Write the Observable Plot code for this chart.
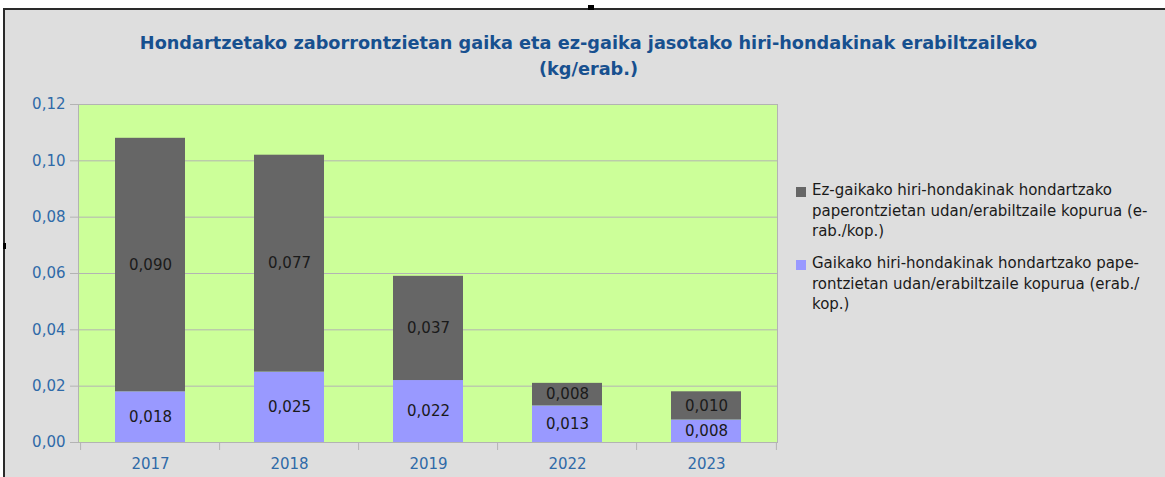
<!DOCTYPE html>
<html>
<head>
<meta charset="utf-8">
<script src="https://cdn.jsdelivr.net/npm/d3@7"></script>
<script src="https://cdn.jsdelivr.net/npm/@observablehq/plot@0.6"></script>
<style>
  html, body { margin: 0; padding: 0; background: #ffffff; width: 1165px; height: 477px; overflow: hidden; }
  #frame { position: absolute; left: 3px; top: 8px; width: 1170px; height: 480px; box-sizing: border-box;
           border-top: 2px solid #2a2a2a; border-left: 2px solid #2a2a2a; background: #dedede; }
  .handle { position: absolute; background: #000; }
  #title { position: absolute; left: 0; top: 30px; width: 1177px; text-align: center;
           font: bold 17.7px "DejaVu Sans", Verdana, sans-serif; line-height: 26px; color: #17508f; }
  #chart { position: absolute; left: 0; top: 0; }
  .leg { position: absolute; left: 796px; font: 15px "DejaVu Sans", Verdana, sans-serif; line-height: 20.5px; color: #1a1a1a; }
  .leg .sw { position: absolute; left: 0; top: 7px; width: 10px; height: 10px; }
  .leg .tx { position: absolute; left: 16px; top: 0; white-space: nowrap; }
</style>
</head>
<body>
<div id="frame"></div>
<div class="handle" style="left:588px;top:5px;width:6px;height:5px"></div>
<div class="handle" style="left:3px;top:243px;width:3px;height:6px"></div>
<div id="title"></div>
<div id="chart"></div>
<div id="legend"></div>
<script>
const titleLines = ["Hondartzetako zaborrontzietan gaika eta ez-gaika jasotako hiri-hondakinak erabiltzaileko", "(kg/erab.)"];
const years = ["2017", "2018", "2019", "2022", "2023"];
const gaika = [0.018, 0.025, 0.022, 0.013, 0.008];
const ezGaika = [0.090, 0.077, 0.037, 0.008, 0.010];
const seriesNames = ["Gaikako", "Ez-gaikako"];
const seriesColors = ["#9999ff", "#666666"];
const legendLines = [
  ["Ez-gaikako hiri-hondakinak hondartzako", "paperontzietan udan/erabiltzaile kopurua (e-", "rab./kop.)"],
  ["Gaikako hiri-hondakinak hondartzako pape-", "rontzietan udan/erabiltzaile kopurua (erab./", "kop.)"]
];
const legendColors = ["#666666", "#9999ff"];
const legendTops = [180, 253];
const yTicks = [0, 0.02, 0.04, 0.06, 0.08, 0.10, 0.12];

const fmt = (d, n) => d.toFixed(n).replace(".", ",");

document.getElementById("title").innerHTML = titleLines.join("<br>");

const rows = [];
years.forEach((y, i) => {
  rows.push({year: y, series: seriesNames[0], value: gaika[i]});
  rows.push({year: y, series: seriesNames[1], value: ezGaika[i]});
});

const W = 1165, H = 477;
const mL = 78, mR = 388, mT = 104, mB = 35;
const step = (W - mL - mR) / years.length;
const plotH = H - mT - mB;
const yMax = yTicks[yTicks.length - 1];
const tickLen = -yMax * 8 / plotH;

const chart = Plot.plot({
  width: W, height: H,
  marginLeft: mL, marginRight: mR, marginTop: mT, marginBottom: mB,
  style: {background: "transparent", fontFamily: "DejaVu Sans, Verdana, sans-serif", fontSize: "15px"},
  x: {domain: years, paddingInner: 0.5, paddingOuter: 0.25, label: null},
  y: {domain: [0, yMax], label: null},
  color: {domain: seriesNames, range: seriesColors},
  marks: [
    Plot.frame({fill: "#ccff99", stroke: "#b3b3b3"}),
    Plot.gridY(yTicks, {stroke: "#b3b3b3", strokeOpacity: 1}),
    Plot.barY(rows, Plot.stackY({x: "year", y: "value", fill: "series"})),
    Plot.text(rows, Plot.stackY({x: "year", y: "value", text: d => fmt(d.value, 3), fill: "#1a1a1a", fontSize: 15})),
    Plot.axisY({ticks: yTicks, tickFormat: d => fmt(d, 2), tickSize: 8, tickPadding: 5, stroke: "#b3b3b3", fill: "#2f6aa8", label: null}),
    Plot.axisX({tickSize: 0, tickPadding: 16, fill: "#2f6aa8", label: null}),
    Plot.ruleX(years, {x: d => d, dx: -step / 2, y1: 0, y2: tickLen, stroke: "#b3b3b3"}),
    Plot.ruleX(years.slice(-1), {x: d => d, dx: step / 2, y1: 0, y2: tickLen, stroke: "#b3b3b3"})
  ]
});
document.getElementById("chart").appendChild(chart);

const leg = document.getElementById("legend");
legendLines.forEach((lines, i) => {
  const div = document.createElement("div");
  div.className = "leg";
  div.style.top = legendTops[i] + "px";
  div.innerHTML = `<div class="sw" style="background:${legendColors[i]}"></div><div class="tx">${lines.join("<br>")}</div>`;
  leg.appendChild(div);
});
</script>
</body>
</html>
